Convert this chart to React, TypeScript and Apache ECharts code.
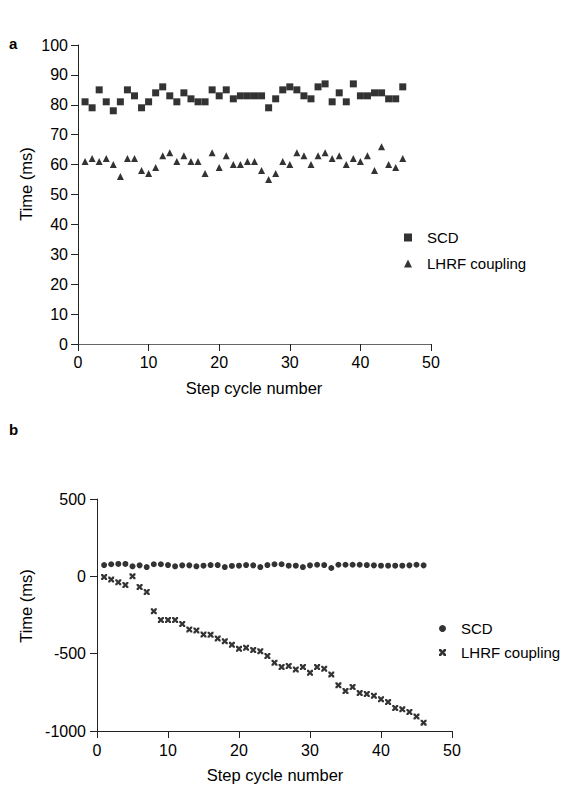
import React, { useEffect, useRef } from "react";
import * as echarts from "echarts";

const cycles = Array.from({ length: 46 }, (_, i) => i + 1);
const scdA = [81,79,85,81,78,81,85,83,79,81,84,86,83,81,84,82,81,81,85,83,85,82,83,83,83,83,79,82,85,86,85,83,82,86,87,81,84,81,87,83,83,84,84,82,82,86];
const lhrfA = [61,62,61,62,60,56,62,62,58,57,59,63,64,61,63,61,61,57,64,59,63,60,60,61,61,58,55,57,61,60,64,63,60,63,64,62,63,60,62,61,63,58,66,60,59,62];
const scdB = [73,78,80,80,65,71,60,78,78,73,65,71,71,65,69,73,73,60,67,69,73,71,60,73,78,78,69,69,60,71,75,73,54,75,75,75,75,73,71,69,69,69,69,71,75,71];
const lhrfB = [-5,-21,-38,-56,0,-69,-101,-226,-282,-282,-282,-308,-344,-350,-376,-378,-402,-419,-443,-469,-462,-477,-484,-515,-559,-587,-580,-602,-587,-624,-587,-598,-634,-705,-742,-716,-755,-761,-772,-795,-813,-851,-860,-877,-907,-946];

const FONT = "'Liberation Sans', Arial, sans-serif";
const X_MARK = "path://M0,0 L3,0 L5,2.5 L7,0 L10,0 L10,3 L7.5,5 L10,7 L10,10 L7,10 L5,7.5 L3,10 L0,10 L0,7 L2.5,5 L0,3 Z";

const pair = (vals: number[]) => vals.map((v, i) => [cycles[i], v]);
const TICK_FS = 16;
const TITLE_FS = 16.5;
const LEG_FS = 15;

export default function App() {
  const ref = useRef<HTMLDivElement>(null);
  useEffect(() => {
    if (!ref.current) return;
    const chart = echarts.init(ref.current, null, { renderer: "svg" });
    const axisCommon = {
      axisLine: { show: true, lineStyle: { color: "#222", width: 1 } },
      axisTick: { show: true, length: 7, lineStyle: { color: "#222" } },
      splitLine: { show: false },
      axisLabel: { color: "#000", fontSize: TICK_FS, fontFamily: FONT, formatter: (v: number) => String(v) },
    };
    chart.setOption({
      animation: false,
      backgroundColor: "#fff",
      textStyle: { fontFamily: FONT },
      grid: [
        { left: 78, top: 45, width: 353, height: 299 },
        { left: 97, top: 499, width: 355, height: 232 },
      ],
      xAxis: [
        { ...axisCommon, gridIndex: 0, type: "value", min: 0, max: 50, interval: 10,
          axisLine: { show: true, onZero: false, lineStyle: { color: "#666", width: 1 } },
          axisLabel: { ...axisCommon.axisLabel, margin: 10 } },
        { ...axisCommon, gridIndex: 1, type: "value", min: 0, max: 50, interval: 10,
          axisLine: { show: true, onZero: false, lineStyle: { color: "#222", width: 1 } },
          axisLabel: { ...axisCommon.axisLabel, margin: 11 } },
      ],
      yAxis: [
        { ...axisCommon, gridIndex: 0, type: "value", min: 0, max: 100, interval: 10,
          axisLabel: { ...axisCommon.axisLabel, margin: 10 } },
        { ...axisCommon, gridIndex: 1, type: "value", min: -1000, max: 500, interval: 500,
          axisLabel: { ...axisCommon.axisLabel, margin: 11 } },
      ],
      legend: [
        { orient: "vertical", left: 399, top: 225, itemWidth: 8, itemHeight: 8, itemGap: 11,
          data: ["SCD", "LHRF coupling"],
          textStyle: { fontSize: LEG_FS, fontFamily: FONT, color: "#000", padding: [0, 0, 0, 10] } },
        { orient: "vertical", left: 434, top: 616, itemWidth: 7, itemHeight: 7, itemGap: 9,
          data: ["SCD ", "LHRF coupling "],
          textStyle: { fontSize: LEG_FS, fontFamily: FONT, color: "#000", padding: [0, 0, 0, 10] } },
      ],
      series: [
        { name: "SCD", type: "scatter", xAxisIndex: 0, yAxisIndex: 0, symbol: "rect", symbolSize: 7,
          itemStyle: { color: "#000" }, data: pair(scdA) },
        { name: "LHRF coupling", type: "scatter", xAxisIndex: 0, yAxisIndex: 0, symbol: "triangle", symbolSize: 7,
          itemStyle: { color: "#000" }, data: pair(lhrfA) },
        { name: "SCD ", type: "scatter", xAxisIndex: 1, yAxisIndex: 1, symbol: "circle", symbolSize: 6,
          itemStyle: { color: "#000" }, data: pair(scdB) },
        { name: "LHRF coupling ", type: "scatter", xAxisIndex: 1, yAxisIndex: 1, symbol: X_MARK, symbolSize: 6,
          itemStyle: { color: "#000" }, data: pair(lhrfB) },
      ],
      graphic: [
        { type: "text", left: 9, top: 36, style: { text: "a", fontSize: 15, fontWeight: "bold", fontFamily: FONT, fill: "#000" } },
        { type: "text", left: 9, top: 422, style: { text: "b", fontSize: 15, fontWeight: "bold", fontFamily: FONT, fill: "#000" } },
        { type: "text", x: 26, y: 184, rotation: Math.PI / 2,
          style: { text: "Time (ms)", fontSize: TITLE_FS, fontFamily: FONT, fill: "#000", align: "center", verticalAlign: "middle" } },
        { type: "text", x: 26, y: 606, rotation: Math.PI / 2,
          style: { text: "Time (ms)", fontSize: TITLE_FS, fontFamily: FONT, fill: "#000", align: "center", verticalAlign: "middle" } },
        { type: "text", x: 254, y: 388,
          style: { text: "Step cycle number", fontSize: TITLE_FS, fontFamily: FONT, fill: "#000", align: "center", verticalAlign: "middle" } },
        { type: "text", x: 275, y: 775,
          style: { text: "Step cycle number", fontSize: TITLE_FS, fontFamily: FONT, fill: "#000", align: "center", verticalAlign: "middle" } },
      ],
    });
    return () => chart.dispose();
  }, []);
  return <div ref={ref} style={{ position: "absolute", left: 0, top: 0, width: 569, height: 785 }} />;
}
